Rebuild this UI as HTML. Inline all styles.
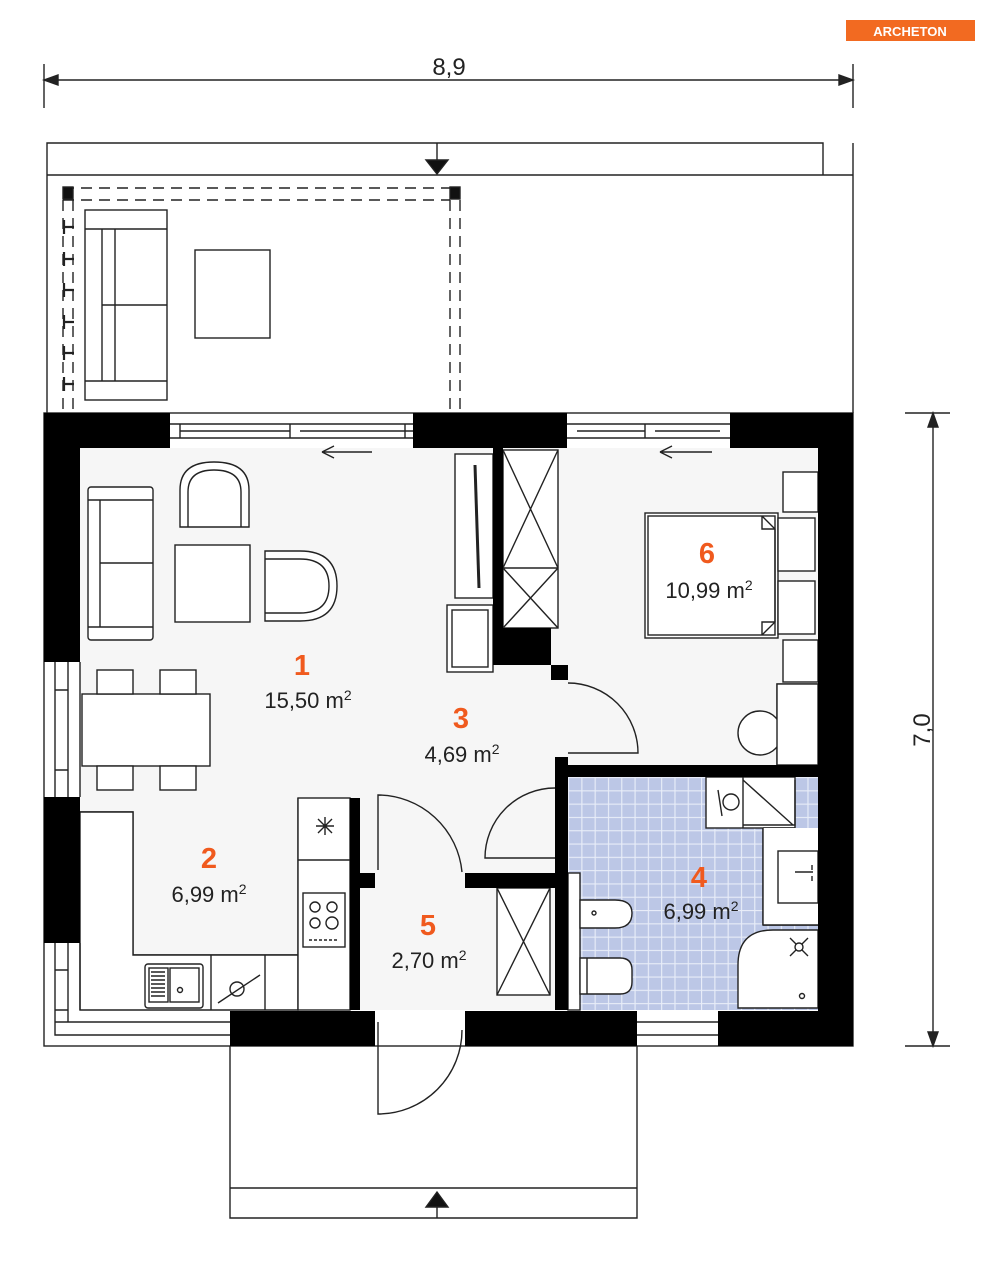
<!DOCTYPE html>
<html><head><meta charset="utf-8"><style>
html,body{margin:0;padding:0;background:#fff}
svg{display:block}
text{font-family:"Liberation Sans",Arial,sans-serif}
.n{fill:#f05a1e;font-weight:bold;font-size:29px;text-anchor:middle}
.a{fill:#222;font-size:22px;text-anchor:middle}
</style></head><body>
<svg width="995" height="1266" viewBox="0 0 995 1266" xmlns="http://www.w3.org/2000/svg">
<defs>
<pattern id="tile" x="568" y="777" width="13.3" height="13.3" patternUnits="userSpaceOnUse">
<rect width="13.3" height="13.3" fill="#bcc7e6"/>
<path d="M0 0.5H13.3M0.5 0V13.3" stroke="#e8edf8" stroke-width="1.3"/>
</pattern>
</defs>
<g fill="none" stroke="#222" stroke-width="1.4">
<!-- logo -->
<rect x="846" y="20" width="129" height="21" fill="#f26a21" stroke="none"/>
<!-- dimensions -->
<line x1="44" y1="80" x2="853" y2="80"/>
<line x1="44" y1="64" x2="44" y2="108"/><line x1="853" y1="64" x2="853" y2="108"/>
<path d="M44 80l14-5v10zM853 80l-14-5v10z" fill="#222"/>
<line x1="933" y1="413" x2="933" y2="1046"/>
<line x1="905" y1="413" x2="950" y2="413"/><line x1="905" y1="1046" x2="950" y2="1046"/>
<path d="M933 413l-5 14h10zM933 1046l-5-14h10z" fill="#222"/>
<!-- terrace -->
<path d="M47 413V143H823V175M47 175H853M853 143V413"/>
<line x1="437" y1="143" x2="437" y2="160"/>
<path d="M426 160h22l-11 14z" fill="#111"/>
<g stroke-dasharray="11 7">
<path d="M63 188H460M63 200H450M63 200V413M73 200V413M450 200V413M460 200V413"/>
</g>
<rect x="63" y="187" width="10" height="12" fill="#111"/>
<rect x="450" y="187" width="10" height="12" fill="#111"/>
<g stroke-width="2.2">
<path d="M64 227h10M64 259h10M64 290h10M64 322h10M64 353h10M64 384h10M64 220v14M64 252v14M64 283v14M64 315v14M64 346v14M64 377v14"/>
</g>
<rect x="85" y="210" width="82" height="190"/>
<path d="M85 229H167M85 381H167M102 229V381M115 229V381M102 305H167"/>
<rect x="195" y="250" width="75" height="88"/>
<!-- floors -->
<rect x="80" y="448" width="738" height="562" fill="#f6f6f6" stroke="none"/>
<rect x="568" y="777" width="250" height="233" fill="url(#tile)" stroke="none"/>
<!-- bathroom white fixtures -->
<rect x="706" y="777" width="89" height="51" fill="#fff"/>
<path d="M763 828H795M763 828V925H818" fill="#fff" stroke="#222"/>
<rect x="763" y="828" width="55" height="97" fill="#fff" stroke="none"/>
<line x1="763" y1="828" x2="763" y2="925"/><line x1="763" y1="925" x2="818" y2="925"/>
<rect x="778" y="851" width="40" height="52" fill="#fff"/>
<path d="M795 872h18M812 865v5M812 876v5"/>
<path d="M738 1008V965Q738 930 773 930H818V1008Z" fill="#fff"/>
<path d="M790 938l18 18M808 938l-18 18"/><circle cx="799" cy="947" r="4" fill="#fff"/>
<circle cx="802" cy="996" r="2.5"/>
<line x1="743" y1="777" x2="743" y2="828"/>
<path d="M743 780l50 45M743 825H795V780"/>
<circle cx="731" cy="802" r="8"/><path d="M718 790l4 26"/>
<rect x="568" y="873" width="12" height="137" fill="#fff"/>
<path d="M580 900H615Q632 900 632 913Q632 928 615 928H580Z" fill="#fff"/>
<circle cx="594" cy="913" r="2"/>
<path d="M580 958H620Q632 958 632 970V982Q632 994 620 994H580Z" fill="#fff"/>
<line x1="587" y1="958" x2="587" y2="994"/>
<!-- kitchen -->
<path d="M80 812H133V955H298V798" fill="none"/>
<path d="M80 812H133V955H298V1010H80Z" fill="#fff"/>
<rect x="298" y="798" width="52" height="212" fill="#fff"/>
<line x1="298" y1="860" x2="350" y2="860"/>
<path d="M316 826h18M325 817v18M318 819l14 14M332 819l-14 14"/>
<rect x="303" y="893" width="42" height="54"/>
<circle cx="315" cy="907" r="5"/><circle cx="332" cy="907" r="5"/><circle cx="315" cy="923" r="5"/><circle cx="332" cy="923" r="6"/>
<path d="M309 940h28" stroke-dasharray="3 2"/>
<line x1="211" y1="955" x2="211" y2="1010"/><line x1="265" y1="955" x2="265" y2="1010"/>
<rect x="145" y="964" width="58" height="44" rx="3"/>
<rect x="149" y="968" width="19" height="34" fill="#fff"/>
<path d="M151 972h14M151 976h14M151 980h14M151 984h14M151 988h14M151 992h14M151 996h14"/>
<rect x="170" y="968" width="29" height="34"/><circle cx="180" cy="990" r="2.5"/>
<path d="M218 1003l42-28"/><circle cx="237" cy="989" r="7"/>
<!-- living -->
<rect x="88" y="487" width="65" height="153" rx="3" fill="#fff"/>
<path d="M88 500H153M88 627H153M100 500V627M100 563H153"/>
<path d="M180 527V490Q180 462 214 462Q249 462 249 490V527Z" fill="#fff"/>
<path d="M188 527V492Q188 470 214 470Q241 470 241 492V527"/>
<rect x="175" y="545" width="75" height="77" fill="#fff"/>
<path d="M265 551H300Q337 551 337 586Q337 621 300 621H265Z" fill="#fff"/>
<path d="M265 559H300Q329 559 329 586Q329 613 300 613H265"/>
<rect x="82" y="694" width="128" height="72" fill="#fff"/>
<rect x="97" y="670" width="36" height="24" fill="#fff"/><rect x="160" y="670" width="36" height="24" fill="#fff"/>
<rect x="97" y="766" width="36" height="24" fill="#fff"/><rect x="160" y="766" width="36" height="24" fill="#fff"/>
<rect x="455" y="454" width="38" height="144" fill="#fff"/>
<path d="M475 465L479 588" stroke-width="3"/>
<rect x="447" y="605" width="46" height="67" fill="#fff"/>
<rect x="452" y="610" width="36" height="57"/>
<rect x="503" y="450" width="55" height="178" fill="#fff"/>
<path d="M503 568H558M503 450L558 568M558 450L503 568M503 568L558 628M558 568L503 628"/>
<path d="M322 452H372M322 452l12-6M322 452l12 6"/>
<!-- bedroom -->
<path d="M660 452H712M660 452l12-6M660 452l12 6"/>
<rect x="783" y="472" width="35" height="40" fill="#fff"/>
<rect x="783" y="640" width="35" height="42" fill="#fff"/>
<rect x="645" y="513" width="133" height="125" fill="#fff"/>
<rect x="648" y="516" width="127" height="119"/>
<rect x="778" y="518" width="37" height="53" fill="#fff"/>
<rect x="778" y="581" width="37" height="53" fill="#fff"/>
<path d="M762 516l13 13v93l-13 13"/>
<path d="M762 516v13h13M762 635v-13h13"/>
<rect x="777" y="684" width="41" height="81" fill="#fff"/>
<circle cx="760" cy="733" r="22" fill="#fff"/>
<rect x="777" y="684" width="41" height="81" fill="#fff"/>
<!-- hall wardrobe -->
<rect x="497" y="888" width="53" height="107" fill="#fff"/>
<path d="M497 888L550 995M550 888L497 995"/>
<!-- doors -->
<path d="M568 683A70 70 0 0 1 638 753H568"/>
<path d="M555 788A70 70 0 0 0 485 858H555"/>
<path d="M378 870V795A85 85 0 0 1 462 872"/>
<path d="M378 1022V1114A84 84 0 0 0 462 1030"/>
<!-- entrance -->
<path d="M230 1046V1218H637V1046M230 1188H637"/>
<line x1="437" y1="1206" x2="437" y2="1218"/>
<path d="M426 1207h22l-11-15z" fill="#111"/>
<!-- outer wall outline -->
<rect x="44" y="413" width="809" height="633"/>
<!-- windows thin lines -->
<path d="M170 424H413M170 438H413M180 431H290M300 431H413M290 424v14M180 424v14M405 424v14"/>
<path d="M567 424H730M567 438H730M577 431H645M655 431H720M645 424v14"/>
<path d="M55 662V797M68 662V797M80 662V797M55 690h13M55 770h13"/>
<path d="M55 943V1035H230M68 943V1022H230M80 943V1010M55 970h13M55 1010h13M55 1022H80"/>
<path d="M637 1022H718M637 1035H718"/>
</g>
<!-- walls -->
<g fill="#000">
<rect x="44" y="413" width="126" height="35"/>
<rect x="413" y="413" width="154" height="35"/>
<rect x="730" y="413" width="123" height="35"/>
<rect x="44" y="413" width="36" height="249"/>
<rect x="44" y="797" width="36" height="146"/>
<rect x="818" y="413" width="35" height="633"/>
<rect x="230" y="1011" width="145" height="35"/>
<rect x="465" y="1011" width="172" height="35"/>
<rect x="718" y="1011" width="135" height="35"/>
<rect x="493" y="448" width="10" height="217"/>
<rect x="493" y="628" width="58" height="37"/>
<rect x="551" y="665" width="17" height="15"/>
<rect x="555" y="757" width="13" height="253"/>
<rect x="555" y="765" width="263" height="12"/>
<rect x="465" y="873" width="90" height="15"/>
<rect x="350" y="798" width="10" height="212"/>
<rect x="360" y="873" width="15" height="15"/>
</g>
<text x="449" y="75" style="font-size:24px;text-anchor:middle;fill:#222">8,9</text>
<text transform="translate(930,730) rotate(-90)" style="font-size:24px;text-anchor:middle;fill:#222">7,0</text>
<text x="910" y="36" style="font-size:13px;font-weight:bold;fill:#fff;text-anchor:middle">ARCHETON</text>
<text class="n" x="302" y="675">1</text><text class="a" x="308" y="708">15,50 m<tspan dy="-8" font-size="14">2</tspan></text>
<text class="n" x="461" y="728">3</text><text class="a" x="462" y="762">4,69 m<tspan dy="-8" font-size="14">2</tspan></text>
<text class="n" x="209" y="868">2</text><text class="a" x="209" y="902">6,99 m<tspan dy="-8" font-size="14">2</tspan></text>
<text class="n" x="428" y="935">5</text><text class="a" x="429" y="968">2,70 m<tspan dy="-8" font-size="14">2</tspan></text>
<text class="n" x="699" y="887">4</text><text class="a" x="701" y="919">6,99 m<tspan dy="-8" font-size="14">2</tspan></text>
<text class="n" x="707" y="563">6</text><text class="a" x="709" y="598">10,99 m<tspan dy="-8" font-size="14">2</tspan></text>
</svg>
</body></html>
